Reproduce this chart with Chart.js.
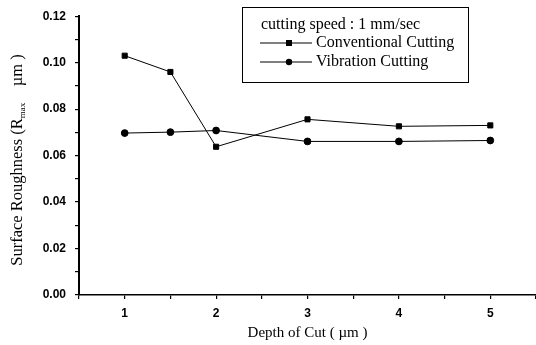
<!DOCTYPE html>
<html>
<head>
<meta charset="utf-8">
<script src="https://cdn.jsdelivr.net/npm/chart.js@4"></script>
<style>
  html, body { margin: 0; padding: 0; background: #fff; }
  #wrap { width: 536px; height: 345px; position: relative; }
</style>
</head>
<body>
<div id="wrap"><canvas id="c"></canvas></div>
<script>
// Surface roughness vs depth of cut, conventional vs vibration cutting
const depths = [1, 1.5, 2, 3, 4, 5];
const conventional = [0.103, 0.096, 0.0638, 0.0756, 0.0726, 0.073];
const vibration = [0.0697, 0.0701, 0.0708, 0.0661, 0.0661, 0.0665];
const legendTitle = 'cutting speed : 1 mm/sec';
const seriesNames = ['Conventional Cutting', 'Vibration Cutting'];

const SERIF = '"Liberation Serif", "Times New Roman", serif';
const SANS = '"Liberation Sans", Arial, sans-serif';

// y title has a subscript, so draw it by hand; legend box too
const annotations = {
  id: 'annotations',
  afterDraw(chart) {
    const ctx = chart.ctx;
    ctx.save();
    ctx.fillStyle = '#000';
    ctx.strokeStyle = '#000';

    // y axis title, rotated
    ctx.translate(18, 160);
    ctx.rotate(-Math.PI / 2);
    ctx.textBaseline = 'middle';
    const parts = [
      { t: 'Surface Roughness (R', f: '16.5px ' + SERIF, dy: 0 },
      { t: 'max', f: '9px ' + SERIF, dy: 5 },
      { t: '    \u00b5m )', f: '16.5px ' + SERIF, dy: 0 }
    ];
    let total = 0;
    parts.forEach(p => { ctx.font = p.f; total += ctx.measureText(p.t).width; });
    let x = -total / 2;
    ctx.textAlign = 'left';
    parts.forEach(p => {
      ctx.font = p.f;
      ctx.fillText(p.t, x, p.dy);
      x += ctx.measureText(p.t).width;
    });
    ctx.restore();

    // legend box
    ctx.save();
    ctx.strokeStyle = '#000';
    ctx.lineWidth = 1;
    ctx.strokeRect(242.5, 7.5, 226, 75);
    ctx.fillStyle = '#000';
    ctx.font = '16px ' + SERIF;
    ctx.textBaseline = 'middle';
    ctx.textAlign = 'left';
    ctx.fillText(legendTitle, 261, 25);
    const rows = [
      { y: 43, style: 'rect', name: seriesNames[0] },
      { y: 62, style: 'circle', name: seriesNames[1] }
    ];
    rows.forEach(r => {
      ctx.beginPath();
      ctx.moveTo(260, r.y);
      ctx.lineTo(312, r.y);
      ctx.stroke();
      if (r.style === 'rect') {
        ctx.fillRect(286, r.y - 3, 6, 6);
      } else {
        ctx.beginPath();
        ctx.arc(289, r.y, 3.2, 0, Math.PI * 2);
        ctx.fill();
      }
      ctx.fillText(r.name, 316, r.y);
    });
    ctx.restore();
  }
};

new Chart(document.getElementById('c'), {
  type: 'line',
  data: {
    datasets: [
      {
        label: seriesNames[0],
        data: depths.map((d, i) => ({ x: d, y: conventional[i] })),
        borderColor: '#000',
        backgroundColor: '#000',
        borderWidth: 1,
        pointStyle: 'rect',
        pointRadius: 3.6,
        tension: 0
      },
      {
        label: seriesNames[1],
        data: depths.map((d, i) => ({ x: d, y: vibration[i] })),
        borderColor: '#000',
        backgroundColor: '#000',
        borderWidth: 1,
        pointStyle: 'circle',
        pointRadius: 3.4,
        tension: 0
      }
    ]
  },
  options: {
    responsive: true,
    maintainAspectRatio: false,
    animation: false,
    layout: { autoPadding: false, padding: { top: 16, right: 0, left: 0, bottom: 0 } },
    plugins: {
      legend: { display: false },
      tooltip: { enabled: false }
    },
    scales: {
      x: {
        type: 'linear',
        min: 0.5,
        max: 5.5,
        border: { display: true, color: '#000', width: 1.5 },
        grid: { display: true, drawOnChartArea: false, drawTicks: true, tickLength: 4, color: '#000', lineWidth: 1.2 },
        ticks: {
          stepSize: 0.5,
          color: '#000',
          padding: 7,
          font: { family: SANS, size: 12, weight: 'bold' },
          callback: v => (Number.isInteger(v) && v >= 1 && v <= 5) ? String(v) : ''
        },
        title: {
          display: true,
          text: 'Depth of Cut ( \u00b5m )',
          color: '#000',
          font: { family: SERIF, size: 15 },
          padding: { top: 2, bottom: 3 }
        },
        afterFit: s => { s.height = 50; s.paddingRight = 0; }
      },
      y: {
        min: 0,
        max: 0.12,
        border: { display: true, color: '#000', width: 2 },
        grid: { display: true, drawOnChartArea: false, drawTicks: true, tickLength: 4, color: '#000', lineWidth: 1.2 },
        ticks: {
          stepSize: 0.01,
          color: '#000',
          padding: 9,
          font: { family: SANS, size: 12, weight: 'bold' },
          callback: v => (Math.round(v * 100) % 2 === 0) ? v.toFixed(2) : ''
        },
        afterFit: s => { s.width = 79; }
      }
    }
  },
  plugins: [annotations]
});
</script>
</body>
</html>
